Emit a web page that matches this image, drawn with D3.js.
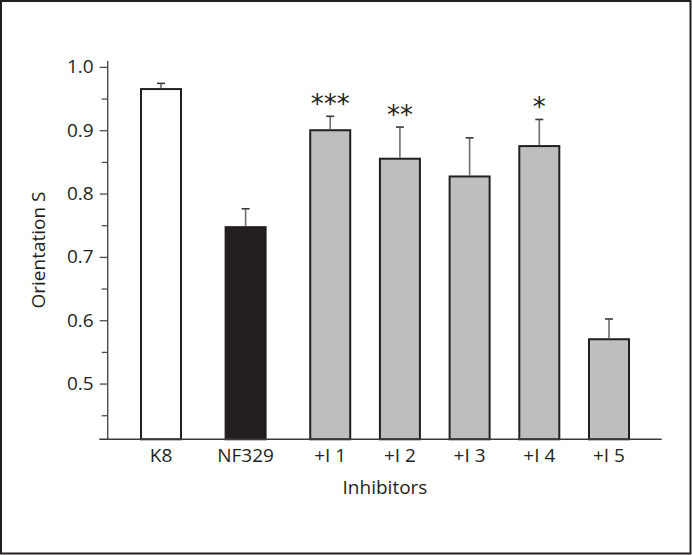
<!DOCTYPE html>
<html>
<head>
<meta charset="utf-8">
<script src="https://cdn.jsdelivr.net/npm/d3@7"></script>
<style>
  html, body { margin: 0; padding: 0; background: #fff; }
  svg { display: block; }
  text { font-family: "Open Sans", sans-serif; fill: #231f20; }
</style>
</head>
<body>
<svg id="chart" width="692" height="555"></svg>
<script>
// ---- data ----
const categories = ["K8", "NF329", "+I 1", "+I 2", "+I 3", "+I 4", "+I 5"];
const values     = [0.965, 0.747, 0.900, 0.855, 0.827, 0.875, 0.570];
const errors     = [0.009, 0.029, 0.022, 0.050, 0.061, 0.042, 0.032];
const stars      = ["", "", "***", "**", "", "*", ""];
const groups     = ["control", "control", "inhibitor", "inhibitor", "inhibitor", "inhibitor", "inhibitor"];
const yTicks     = [0.5, 0.6, 0.7, 0.8, 0.9, 1.0];
const yMinor     = [0.45, 0.55, 0.65, 0.75, 0.85, 0.95];
const yTitle = "Orientation S";
const xTitle = "Inhibitors";

// ---- layout ----
const svg = d3.select("#chart");
const W = 692, H = 555;
svg.append("rect").attr("x", 1).attr("y", 1).attr("width", W - 2.5).attr("height", H - 2.5)
  .attr("fill", "#fff").attr("stroke", "#231f20").attr("stroke-width", 2);

const axisX = 107.7, baseY = 439.3;
const y = d3.scaleLinear().domain([0.412, 1.0]).range([baseY, 66.9]);

// slot positions: control bars are spaced wider than inhibitor bars
const slotUnits = [];
let acc = 0;
categories.forEach((c, i) => {
  if (i > 0) acc += (groups[i - 1] === "control") ? 1.214 : 1;
  slotUnits.push(acc);
});
const x = d3.scaleLinear().domain([0, acc]).range([161, 609]);
const cx = i => x(slotUnits[i]);
const barW = 40;

const fillFor = (g, i) => i === 0 ? "#ffffff" : (i === 1 ? "#231f20" : "#bcbec0");

// y axis
const yAxis = d3.axisLeft(y).tickValues(yTicks).tickFormat(d3.format(".1f")).tickSize(8).tickPadding(6);
const gy = svg.append("g").attr("transform", `translate(${axisX},0)`).call(yAxis);
gy.select(".domain").remove();
gy.selectAll(".tick line").attr("stroke", "#4d4d4f").attr("stroke-width", 1.3);
gy.selectAll(".tick text").attr("font-size", 19).attr("font-family", "Open Sans, sans-serif").attr("fill", "#231f20");
const yAxisMinor = d3.axisLeft(y).tickValues(yMinor).tickFormat("").tickSize(6);
const gym = svg.append("g").attr("transform", `translate(${axisX},0)`).call(yAxisMinor);
gym.select(".domain").remove();
gym.selectAll(".tick line").attr("stroke", "#4d4d4f").attr("stroke-width", 1.3);
svg.append("line").attr("x1", axisX).attr("x2", axisX).attr("y1", y(1.0) - 6).attr("y2", baseY)
  .attr("stroke", "#4d4d4f").attr("stroke-width", 1.4);

// bars
const bars = svg.append("g");
categories.forEach((c, i) => {
  const top = y(values[i]);
  bars.append("rect")
    .attr("x", cx(i) - barW / 2).attr("y", top)
    .attr("width", barW).attr("height", baseY - top)
    .attr("fill", fillFor(groups[i], i))
    .attr("stroke", "#231f20").attr("stroke-width", 2);
  const et = y(values[i] + errors[i]);
  bars.append("line").attr("x1", cx(i)).attr("x2", cx(i)).attr("y1", top - 1).attr("y2", et)
    .attr("stroke", "#6d6e71").attr("stroke-width", 1.6);
  bars.append("line").attr("x1", cx(i) - 4).attr("x2", cx(i) + 4).attr("y1", et).attr("y2", et)
    .attr("stroke", "#3a3a3c").attr("stroke-width", 1.6);
  if (stars[i]) {
    bars.append("text").attr("x", cx(i)).attr("y", et - 17 + 13.5)
      .attr("text-anchor", "middle").attr("font-size", 26)
      .style("font-family", "DejaVu Sans, sans-serif").attr("fill", "#333")
      .text(stars[i]);
  }
  svg.append("text").attr("x", cx(i)).attr("y", 461.5).attr("text-anchor", "middle")
    .attr("font-size", 19).text(c);
});

// baseline
svg.append("line").attr("x1", 99.3).attr("x2", 661.7).attr("y1", baseY).attr("y2", baseY)
  .attr("stroke", "#3a3a3c").attr("stroke-width", 1.6);

// titles
svg.append("text").attr("x", 385).attr("y", 493.5).attr("text-anchor", "middle")
  .attr("font-size", 19).text(xTitle);
svg.append("text").attr("transform", `translate(44.5,250) rotate(-90)`).attr("text-anchor", "middle")
  .attr("font-size", 19).text(yTitle);
</script>
</body>
</html>
